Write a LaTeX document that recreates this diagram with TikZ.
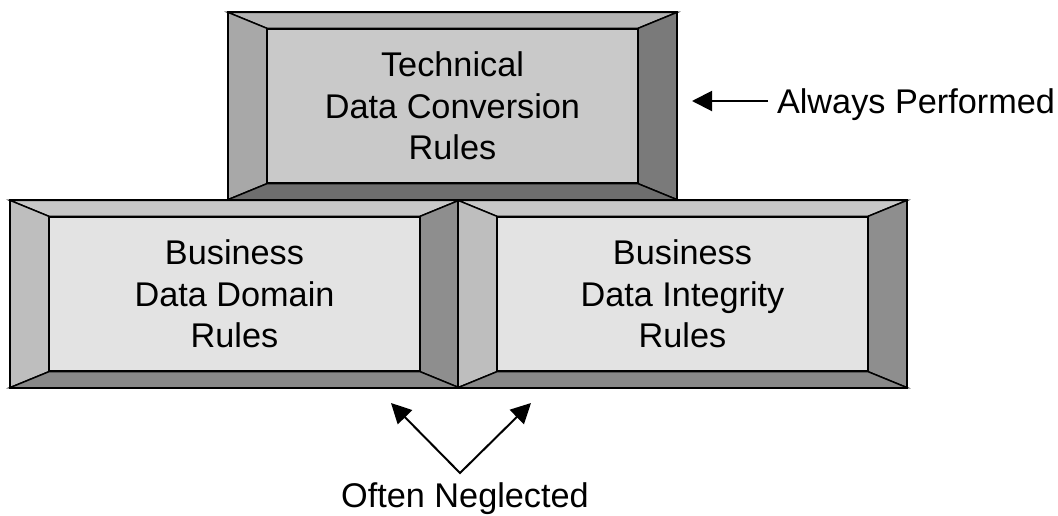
\documentclass[tikz,border=0pt]{standalone}
\usepackage{fontspec}
\setmainfont{Liberation Sans}
\usetikzlibrary{arrows.meta}
\definecolor{tface}{HTML}{C9C9C9}
\definecolor{ttop}{HTML}{B5B5B5}
\definecolor{tleft}{HTML}{A8A8A8}
\definecolor{tright}{HTML}{7A7A7A}
\definecolor{tbot}{HTML}{6E6E6E}
\definecolor{bface}{HTML}{E3E3E3}
\definecolor{btop}{HTML}{C8C8C8}
\definecolor{bleft}{HTML}{BEBEBE}
\definecolor{bright}{HTML}{8E8E8E}
\definecolor{bbot}{HTML}{888888}
\newcommand\bevelframe[5]{%
  \path[bev,fill=#2] (#1.north west) -- (#1.north east) -- ([shift={(39,-16)}]#1.north east) -- ([shift={(-39,-16)}]#1.north west) -- cycle;
  \path[bev,fill=#3] (#1.north west) -- (#1.south west) -- ([shift={(-39,16)}]#1.south west) -- ([shift={(-39,-16)}]#1.north west) -- cycle;
  \path[bev,fill=#4] (#1.north east) -- (#1.south east) -- ([shift={(39,16)}]#1.south east) -- ([shift={(39,-16)}]#1.north east) -- cycle;
  \path[bev,fill=#5] (#1.south west) -- (#1.south east) -- ([shift={(39,16)}]#1.south east) -- ([shift={(-39,16)}]#1.south west) -- cycle;
  \draw[line width=1.7pt] ([shift={(-39,-16)}]#1.north west) rectangle ([shift={(39,16)}]#1.south east);
}
\tikzset{
  facebox/.style={draw=black, line width=1.1pt, minimum width=277.5pt, minimum height=115.5pt,
    inner sep=0pt, align=center, font=\fontsize{25.7}{31.1}\selectfont},
  bev/.style={draw=black, line width=1.1pt, line join=miter},
  lbl/.style={font=\fontsize{25.7}{31.1}\selectfont, inner sep=0pt, text height=18.4pt, text depth=0pt},
  arr/.style={line width=1.5pt, -{Triangle[length=15pt,width=15pt]}},
}
\begin{document}
\begin{tikzpicture}[x=0.75pt,y=-0.75pt]
\useasboundingbox (0,0) rectangle (1058,515);
% bottom left box
\node[facebox, fill=bface] (domain) at (234.5,294) {Business\\Data Domain\\Rules};
\bevelframe{domain}{btop}{bleft}{bright}{bbot}
% bottom right box
\node[facebox, fill=bface] (integrity) at (682.5,294) {Business\\Data Integrity\\Rules};
\bevelframe{integrity}{btop}{bleft}{bright}{bbot}
% top box
\node[facebox, fill=tface] (tech) at (452.5,106) {Technical\\Data Conversion\\Rules};
\bevelframe{tech}{ttop}{tleft}{tright}{tbot}
% labels
\node[lbl, anchor=west, outer xsep=6.75pt] (always) at (768,101) {Always Performed};
\coordinate (tipA) at (692,101);
\draw[arr] (always.west) -- (tipA);
\node[lbl] (neglected) at (465,495) {Often Neglected};
\coordinate (apex) at (460,473);
\coordinate (tipL) at (391,403);
\coordinate (tipR) at (531,403);
\draw[line width=1.5pt, line join=miter, {Triangle[length=15pt,width=15pt]}-{Triangle[length=15pt,width=15pt]}] (tipL) -- (apex) -- (tipR);
\end{tikzpicture}
\end{document}
